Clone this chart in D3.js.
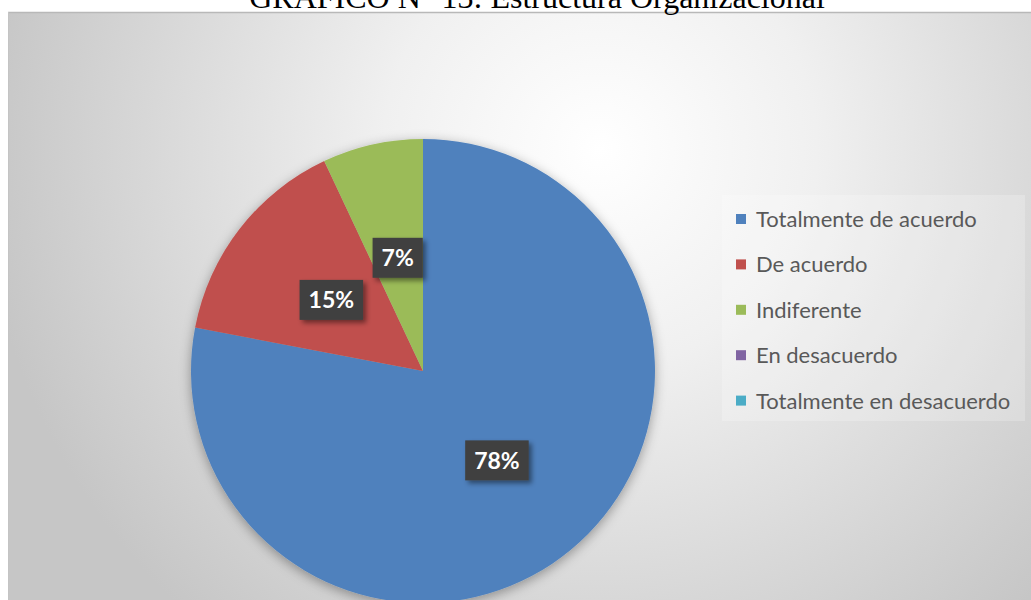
<!DOCTYPE html>
<html>
<head>
<meta charset="utf-8">
<script src="https://cdn.jsdelivr.net/npm/d3@7/dist/d3.min.js"></script>
<style>
  html, body { margin: 0; padding: 0; background: #ffffff; }
  svg { display: block; }
</style>
</head>
<body>
<svg id="chart" width="1031" height="600"></svg>
<script>
// Survey answers and their shares (percent)
const categories = ["Totalmente de acuerdo", "De acuerdo", "Indiferente", "En desacuerdo", "Totalmente en desacuerdo"];
const values = [78, 15, 7, 0, 0];
const colors = ["#4F81BD", "#C0504D", "#9BBB59", "#8064A2", "#4BACC6"];
const titleText = "GRÁFICO N° 13: Estructura Organizacional";

const W = 1031, H = 600;
const svg = d3.select("#chart");
const defs = svg.append("defs");

// Chart-area radial fill: bright near the upper middle, grey toward the edges
const bg = defs.append("radialGradient")
  .attr("id", "bgGrad")
  .attr("gradientUnits", "userSpaceOnUse")
  .attr("cx", 600).attr("cy", 150).attr("r", 620);
bg.append("stop").attr("offset", "0").attr("stop-color", "#ffffff");
bg.append("stop").attr("offset", "0.35").attr("stop-color", "#f0f0f0");
bg.append("stop").attr("offset", "1").attr("stop-color", "#c6c6c6");

// Soft shadow under the pie
const pieShadow = defs.append("filter").attr("id", "pieShadow")
  .attr("x", "-20%").attr("y", "-20%").attr("width", "140%").attr("height", "140%");
pieShadow.append("feDropShadow")
  .attr("dx", 0).attr("dy", 3).attr("stdDeviation", 6)
  .attr("flood-color", "#000").attr("flood-opacity", 0.35);

// Shadow behind the data-label boxes
const boxShadow = defs.append("filter").attr("id", "boxShadow")
  .attr("x", "-30%").attr("y", "-30%").attr("width", "160%").attr("height", "160%");
boxShadow.append("feDropShadow")
  .attr("dx", 3).attr("dy", 3).attr("stdDeviation", 2.5)
  .attr("flood-color", "#000").attr("flood-opacity", 0.45);

// Chart area
const area = { x: 8, y: 12, w: W + 20, h: H };
svg.append("rect")
  .attr("x", area.x).attr("y", area.y)
  .attr("width", area.w).attr("height", area.h)
  .attr("fill", "url(#bgGrad)");
svg.append("line")
  .attr("x1", area.x).attr("x2", W)
  .attr("y1", area.y + 0.5).attr("y2", area.y + 0.5)
  .attr("stroke", "#b8b8b8").attr("stroke-width", 1.5);
svg.append("line")
  .attr("x1", area.x + 0.5).attr("x2", area.x + 0.5)
  .attr("y1", area.y).attr("y2", H)
  .attr("stroke", "#c4c4c4").attr("stroke-width", 1);

// Title (sits above the chart area, its upper half runs off the top of the page)
svg.append("text")
  .attr("x", 537).attr("y", 8)
  .attr("text-anchor", "middle")
  .attr("font-family", "'Liberation Serif', 'Times New Roman', serif")
  .attr("font-size", 32)
  .attr("fill", "#000")
  .text(titleText);

// Pie
const cx = 423, cy = 371, R = 232;
const pie = d3.pie().sort(null).value(d => d.value);
const data = categories.map((c, i) => ({ name: c, value: values[i], color: colors[i] }));
const arcs = pie(data);
const arc = d3.arc().innerRadius(0).outerRadius(R);
const labelArc = d3.arc().innerRadius(0).outerRadius(R);

const g = svg.append("g").attr("transform", `translate(${cx},${cy})`);
g.append("g").attr("filter", "url(#pieShadow)")
  .selectAll("path")
  .data(arcs.filter(d => d.data.value > 0))
  .join("path")
  .attr("d", arc)
  .attr("fill", d => d.data.color);

// Data labels: white bold percent on a dark box at each slice centroid
const labels = g.selectAll("g.lbl")
  .data(arcs.filter(d => d.data.value > 0))
  .join("g")
  .attr("class", "lbl")
  .attr("transform", d => `translate(${labelArc.centroid(d)})`);

labels.each(function (d) {
  const sel = d3.select(this);
  const rect = sel.append("rect").attr("fill", "#404040").attr("filter", "url(#boxShadow)");
  const t = sel.append("text")
    .attr("text-anchor", "middle")
    .attr("dy", "0.36em")
    .attr("font-family", "Lato, 'Open Sans', sans-serif")
    .attr("font-weight", "bold")
    .attr("font-size", 23)
    .attr("fill", "#ffffff")
    .text(d.data.value + "%");
  const tw = t.node().getComputedTextLength();
  const bw = tw + 18, bh = 40;
  rect.attr("x", -bw / 2).attr("y", -bh / 2).attr("width", bw).attr("height", bh);
});

// Legend
const legendX = 736, legendY0 = 219, legendStep = 45.4;
svg.append("rect")
  .attr("x", 722).attr("y", 195).attr("width", 303).attr("height", 226)
  .attr("fill", "#ffffff").attr("fill-opacity", 0.22);
const legend = svg.append("g");
const items = legend.selectAll("g")
  .data(data)
  .join("g")
  .attr("transform", (d, i) => `translate(${legendX},${legendY0 + i * legendStep})`);
items.append("rect")
  .attr("x", 0).attr("y", -5).attr("width", 10).attr("height", 10)
  .attr("fill", d => d.color);
items.append("text")
  .attr("x", 20).attr("y", 0).attr("dy", "0.36em")
  .attr("font-family", "Lato, 'Open Sans', sans-serif")
  .attr("font-size", 22)
  .attr("fill", "#595959")
  .text(d => d.name);
</script>
</body>
</html>
